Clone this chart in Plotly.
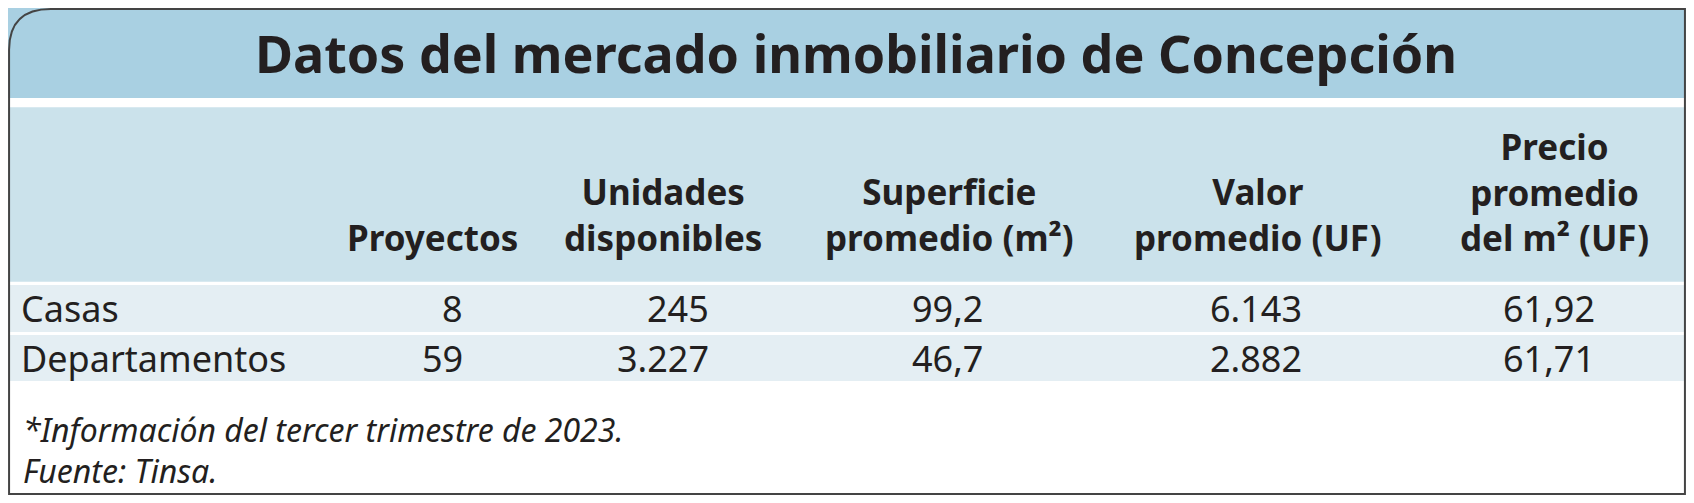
import plotly.graph_objects as go

title = "Datos del mercado inmobiliario de Concepción"
headers = ["Proyectos", "Unidades<br>disponibles", "Superficie<br>promedio (m²)",
           "Valor<br>promedio (UF)", "Precio<br>promedio<br>del m² (UF)"]
row_labels = ["Casas", "Departamentos"]
proyectos = ["8", "59"]
unidades = ["245", "3.227"]
superficie = ["99,2", "46,7"]
valor = ["6.143", "2.882"]
precio = ["61,92", "61,71"]
notes = ["*Información del tercer trimestre de 2023.", "Fuente: Tinsa."]

W, H = 1568, 466
FONT = "Noto Sans"
DARK = "#231f20"

fig = go.Figure()
shapes = [
    dict(type="rect", x0=0, x1=W, y0=0, y1=86, fillcolor="#a9d0e2", line_width=0, layer="below"),
    dict(type="rect", x0=0, x1=W, y0=95, y1=262, fillcolor="#cbe2eb", line_width=0, layer="below"),
    dict(type="rect", x0=0, x1=W, y0=265, y1=310, fillcolor="#e4eef3", line_width=0, layer="below"),
    dict(type="rect", x0=0, x1=W, y0=313, y1=357, fillcolor="#e4eef3", line_width=0, layer="below"),
    dict(type="path", path=f"M 1,40 Q 1,1 40,1 L {W-1},1 L {W-1},{H-1} L 1,{H-1} Z",
         line=dict(color="#444", width=2), fillcolor="rgba(0,0,0,0)"),
]
ann = [dict(x=792, y=43, text=f"<b>{title}</b>", font=dict(size=52, color=DARK, family=FONT),
            showarrow=False, xanchor="center", yanchor="middle")]

cols = [(478, "right"), (612, "center"), (880, "center"), (1168, "center"), (1445, "center")]
for (x, xa), h in zip(cols, headers):
    ann.append(dict(x=x, y=244, text=f"<b>{h}</b>", font=dict(size=35, color=DARK, family=FONT),
                    showarrow=False, xanchor=xa, yanchor="bottom", align="center"))

val_cols = [(427, "right", proyectos), (657, "right", unidades), (878, "center", superficie),
            (1166, "center", valor), (1440, "center", precio)]
row_y = [288, 335]
for i, (lab, y) in enumerate(zip(row_labels, row_y)):
    ann.append(dict(x=10, y=y, text=lab, font=dict(size=36, color=DARK, family=FONT),
                    showarrow=False, xanchor="left", yanchor="middle"))
    for x, xa, vals in val_cols:
        ann.append(dict(x=x, y=y, text=vals[i], font=dict(size=36, color=DARK, family=FONT),
                        showarrow=False, xanchor=xa, yanchor="middle"))

for n, y in zip(notes, [403, 443]):
    ann.append(dict(x=12, y=y, text=f"<i>{n}</i>", font=dict(size=32, color=DARK, family=FONT),
                    showarrow=False, xanchor="left", yanchor="middle"))

fig.update_layout(
    shapes=shapes, annotations=ann,
    xaxis=dict(range=[0, W], visible=False, fixedrange=True),
    yaxis=dict(range=[H, 0], visible=False, fixedrange=True),
    margin=dict(l=0, r=0, t=0, b=0), plot_bgcolor="white", paper_bgcolor="white",
    showlegend=False,
)
fig.write_html("out.html", config={"displayModeBar": False})
